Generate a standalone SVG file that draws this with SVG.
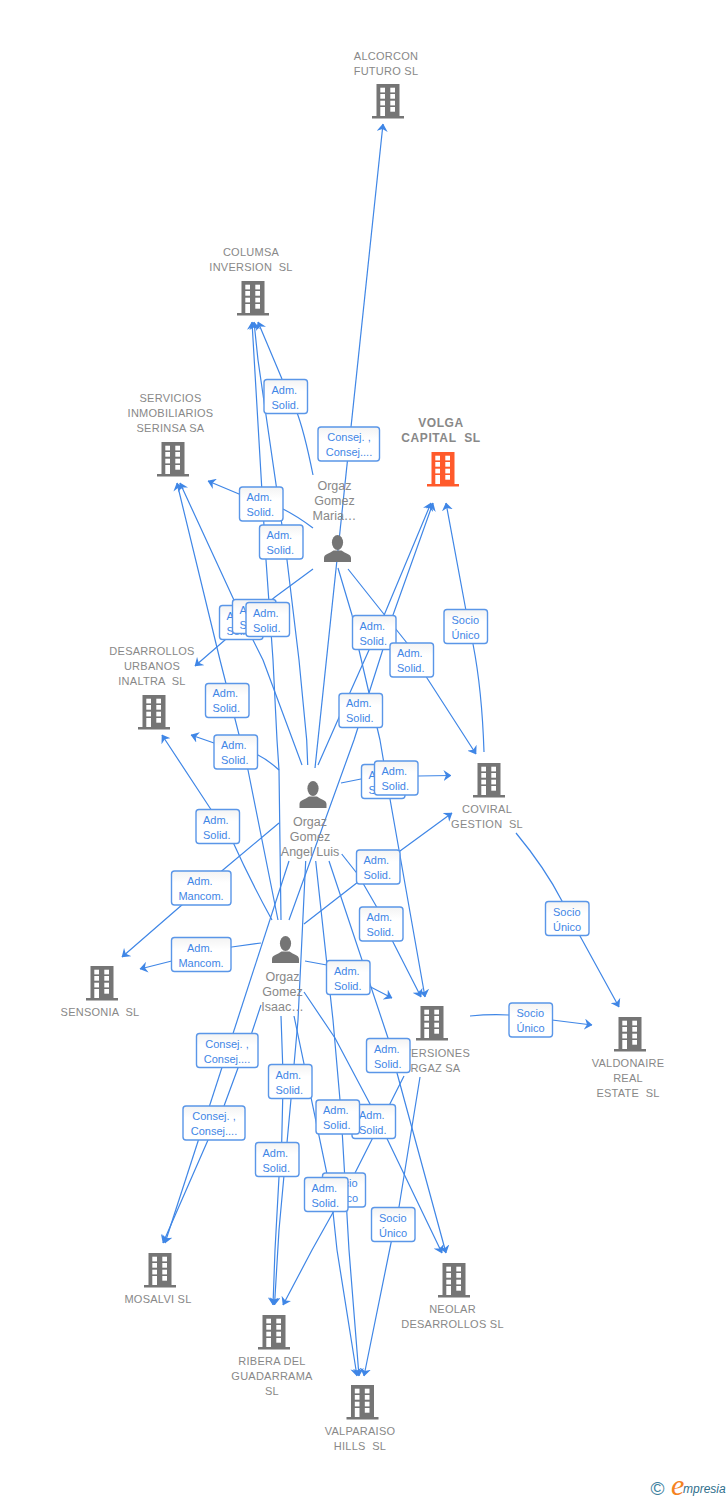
<svg xmlns="http://www.w3.org/2000/svg" width="728" height="1500" viewBox="0 0 728 1500">
<style>
text{font-family:"Liberation Sans",Arial,sans-serif;white-space:pre}
.n{font-size:11px;fill:#888;text-anchor:middle;letter-spacing:.25px}
.b{font-size:12px;font-weight:bold;fill:#888;text-anchor:middle;letter-spacing:.6px}
.p{font-size:12.500px;fill:#888;text-anchor:middle}
.c{fill:none;stroke:#3f86e6;stroke-width:1.2;stroke-linejoin:round;marker-end:url(#ah)}
.l rect{fill:url(#lg);stroke:#5a96e8;stroke-width:1.4}
.l text{font-size:11px;fill:#3f86e6}
.m{text-anchor:middle}
.g{fill:#757575}
</style>
<defs>
<linearGradient id="lg" x1="0" y1="0" x2="0" y2="1"><stop offset="0" stop-color="#f3f3f3"/><stop offset="0.35" stop-color="#fff"/><stop offset="1" stop-color="#fff"/></linearGradient>
<marker id="ah" markerUnits="userSpaceOnUse" markerWidth="8" markerHeight="11" viewBox="0 0 8 11" refX="7.500" refY="5.500" orient="auto"><path d="M8,5.500 L0,0 L2.500,5.500 L0,11 Z" fill="#3f86e6"/></marker>
<g id="bld"><rect x="-11.5" y="0" width="23" height="33"/><rect x="-16" y="32" width="32" height="2.5"/><g fill="#fff"><rect x="-7.7" y="3.7" width="4.7" height="4.7"/><rect x="2.3" y="3.7" width="4.7" height="4.7"/><rect x="-7.7" y="10" width="4.7" height="4.7"/><rect x="2.3" y="10" width="4.7" height="4.7"/><rect x="-7.7" y="16.7" width="4.7" height="4.7"/><rect x="2.3" y="16.7" width="4.7" height="4.7"/><rect x="-7.7" y="23" width="4.7" height="9"/><rect x="2.3" y="23" width="4.7" height="4.7"/></g></g>
<g id="per"><ellipse cx="0" cy="7.5" rx="5.6" ry="7.5"/><path d="M-13.5,27 L-13.5,23 C-13.5,19 -8,18.5 -4,15.5 L4,15.5 C8,18.5 13.5,19 13.5,23 L13.5,27 Z"/></g>
</defs>

<g id="connectors">
<path class="c" d="M315,768 L383,124"/>
<path class="c" d="M313,475 C306,440 300,420 296,410 L282,379 L258,322"/>
<path class="c" d="M313,528 Q297,516 283,509 L239,494 L208,481"/>
<path class="c" d="M313,569 L275,597 L233,633 L195,666"/>
<path class="c" d="M348,569 L383,613 L407,643 L427,678 L476,754"/>
<path class="c" d="M338,568 L352,615 L359,650 L369,693 L380,740 L390,799 L425,997"/>
<path class="c" d="M281,920 L279,770 L277,740 L273,660 L266,560 L252,322"/>
<path class="c" d="M307.700,765 L306.700,740 L299,660 L287,560 L258,360 L254,322"/>
<path class="c" d="M302,765 L263,660 L253,640 L233,598 L180,483"/>
<path class="c" d="M318,765 L348,697 L369,650 L385,613 L431,503"/>
<path class="c" d="M289,920 L354,740 L369,693 L382.700,650 L393,615 L433,503"/>
<path class="c" d="M278,920 L248,770 L220,660 L177,483"/>
<path class="c" d="M279,770 Q268,760 258,755 L214,743 L191,735"/>
<path class="c" d="M272,920 Q250,880 232,840 L210,808 L162,735"/>
<path class="c" d="M279,823 L221.700,871 L180.700,906 L122,957"/>
<path class="c" d="M261,943 L231.700,947 L171.700,961 L140,969"/>
<path class="c" d="M341,783 L361,779 L375,777 L418,776 L451,775.500"/>
<path class="c" d="M304,924 L356.700,883 L400,851 L452,813"/>
<path class="c" d="M341.700,854 L356.700,873 L364,885 L376.700,907 L393,942 L421,997"/>
<path class="c" d="M305,961 L326.700,965 L370.700,987 L392,998"/>
<path class="c" d="M329,861 L388,1038 L397,1073 L446,1253"/>
<path class="c" d="M304,992 L335,1038 L370,1104 L386.700,1138 L442,1253"/>
<path class="c" d="M315.700,861 L333,1020 L340,1100 L342.300,1134 L349,1250 L359,1376"/>
<path class="c" d="M294,1016 L326.700,1172.700 L333,1212 L337,1250 L357,1376"/>
<path class="c" d="M420,1077 L399,1207 L391,1243 L364,1376"/>
<path class="c" d="M404,1076 L355,1173 L332.700,1213 L312,1250 L283,1305"/>
<path class="c" d="M305.700,861 L298,1020 L294,1065 L291,1099 L279,1230 L274.500,1305"/>
<path class="c" d="M281,1016 L282.700,1065 L282.700,1099 L281.700,1142 L279,1177 L275,1250 L273,1305"/>
<path class="c" d="M261,1005 L251.700,1033 L238,1068 L224,1106 L208,1140 L170,1227 L163,1243"/>
<path class="c" d="M289,861 L165,1243"/>
<path class="c" d="M470,1016 Q490,1014 509,1015 L552,1020 L592,1025"/>
<path class="c" d="M516,833 Q545,868 562,901 L580,936 L619,1007"/>
<path class="c" d="M484,752 Q482,690 473,644 L465.700,609 L446,503"/>
</g>

<g id="node-alcorcon"><use href="#bld" x="388" y="84" class="g"/><text class="n" x="386" y="60">ALCORCON</text><text class="n" x="386" y="75">FUTURO SL</text></g>
<g id="node-columsa"><use href="#bld" x="253" y="281" class="g"/><text class="n" x="251" y="256">COLUMSA</text><text class="n" x="251" y="271">INVERSION  SL</text></g>
<g id="node-servicios"><use href="#bld" x="173" y="442" class="g"/><text class="n" x="170.500" y="402">SERVICIOS</text><text class="n" x="170.500" y="417">INMOBILIARIOS</text><text class="n" x="170.500" y="432">SERINSA SA</text></g>
<g id="node-volga"><use href="#bld" x="443" y="452" fill="#ff5a2b"/><text class="b" x="441" y="427">VOLGA</text><text class="b" x="441" y="442">CAPITAL  SL</text></g>
<g id="node-desarrollos"><use href="#bld" x="154" y="695" class="g"/><text class="n" x="152" y="655">DESARROLLOS</text><text class="n" x="152" y="670">URBANOS</text><text class="n" x="152" y="685">INALTRA  SL</text></g>
<g id="node-coviral"><use href="#bld" x="489" y="763" class="g"/><text class="n" x="487" y="813">COVIRAL</text><text class="n" x="487" y="828">GESTION  SL</text></g>
<g id="node-sensonia"><use href="#bld" x="102" y="966" class="g"/><text class="n" x="100" y="1016">SENSONIA  SL</text></g>
<g id="node-inversiones"><use href="#bld" x="432" y="1006" class="g"/><text class="n" x="431" y="1057">INVERSIONES</text><text class="n" x="431" y="1072">ORGAZ SA</text></g>
<g id="node-valdonaire"><use href="#bld" x="630" y="1017" class="g"/><text class="n" x="628" y="1067">VALDONAIRE</text><text class="n" x="628" y="1082">REAL</text><text class="n" x="628" y="1097">ESTATE  SL</text></g>
<g id="node-mosalvi"><use href="#bld" x="160" y="1253" class="g"/><text class="n" x="158" y="1303">MOSALVI SL</text></g>
<g id="node-neolar"><use href="#bld" x="454" y="1263" class="g"/><text class="n" x="452.500" y="1313">NEOLAR</text><text class="n" x="452.500" y="1328">DESARROLLOS SL</text></g>
<g id="node-ribera"><use href="#bld" x="274" y="1315" class="g"/><text class="n" x="272" y="1365">RIBERA DEL</text><text class="n" x="272" y="1380">GUADARRAMA</text><text class="n" x="272" y="1395">SL</text></g>
<g id="node-valparaiso"><use href="#bld" x="362.500" y="1385" class="g"/><text class="n" x="360" y="1435">VALPARAISO</text><text class="n" x="360" y="1450">HILLS  SL</text></g>
<g id="node-maria"><use href="#per" x="337.500" y="535" class="g"/><text class="p" x="334.500" y="490">Orgaz</text><text class="p" x="334.500" y="505">Gomez</text><text class="p" x="334.500" y="520">Maria…</text></g>
<g id="node-angel"><use href="#per" x="313" y="781" class="g"/><text class="p" x="310" y="826">Orgaz</text><text class="p" x="310" y="841">Gomez</text><text class="p" x="310" y="856">Angel Luis</text></g>
<g id="node-isaac"><use href="#per" x="285.500" y="936" class="g"/><text class="p" x="282.500" y="981">Orgaz</text><text class="p" x="282.500" y="996">Gomez</text><text class="p" x="282.500" y="1011">Isaac…</text></g>

<g id="labels">
<g class="l"><rect x="264" y="379.500" width="43.500" height="34" rx="3"/><text x="271.500" y="394">Adm.</text><text x="271.500" y="409">Solid.</text></g>
<g class="l"><rect x="318" y="427" width="61.500" height="34" rx="3"/><text class="m" x="349" y="441">Consej. ,</text><text class="m" x="349" y="456">Consej....</text></g>
<g class="l"><rect x="239.500" y="487" width="43.500" height="34" rx="3"/><text x="246.500" y="501">Adm.</text><text x="246.500" y="516">Solid.</text></g>
<g class="l"><rect x="259.500" y="525" width="43.500" height="34" rx="3"/><text x="266.500" y="539">Adm.</text><text x="266.500" y="554">Solid.</text></g>
<g class="l"><rect x="219.500" y="605.500" width="43.500" height="34" rx="3"/><text x="226.500" y="620">Adm.</text><text x="226.500" y="635">Solid.</text></g>
<g class="l"><rect x="232.500" y="599.500" width="43.500" height="34" rx="3"/><text x="239.500" y="614">Adm.</text><text x="239.500" y="629">Solid.</text></g>
<g class="l"><rect x="246" y="602.500" width="43.500" height="34" rx="3"/><text x="253" y="617">Adm.</text><text x="253" y="632">Solid.</text></g>
<g class="l"><rect x="352.500" y="615.500" width="43.500" height="34" rx="3"/><text x="359.500" y="630">Adm.</text><text x="359.500" y="645">Solid.</text></g>
<g class="l"><rect x="390" y="643" width="43.500" height="34" rx="3"/><text x="397" y="657">Adm.</text><text x="397" y="672">Solid.</text></g>
<g class="l"><rect x="444" y="609.500" width="43.500" height="34" rx="3"/><text x="451.500" y="624">Socio</text><text x="451.500" y="639">Único</text></g>
<g class="l"><rect x="339" y="693.500" width="43.500" height="34" rx="3"/><text x="346" y="707">Adm.</text><text x="346" y="722">Solid.</text></g>
<g class="l"><rect x="205.500" y="683.500" width="43.500" height="34" rx="3"/><text x="212.500" y="697">Adm.</text><text x="212.500" y="712">Solid.</text></g>
<g class="l"><rect x="214" y="735" width="43.500" height="34" rx="3"/><text x="221" y="749">Adm.</text><text x="221" y="764">Solid.</text></g>
<g class="l"><rect x="361.500" y="764.500" width="43.500" height="34" rx="3"/><text x="368.500" y="779">Adm.</text><text x="368.500" y="794">Solid.</text></g>
<g class="l"><rect x="374.500" y="761" width="43.500" height="34" rx="3"/><text x="381.500" y="775">Adm.</text><text x="381.500" y="790">Solid.</text></g>
<g class="l"><rect x="196" y="809.500" width="43.500" height="34" rx="3"/><text x="203" y="824">Adm.</text><text x="203" y="839">Solid.</text></g>
<g class="l"><rect x="171.500" y="871" width="59.500" height="34" rx="3"/><text x="187" y="885">Adm.</text><text class="m" x="201" y="900">Mancom.</text></g>
<g class="l"><rect x="171.500" y="937.500" width="59.500" height="34" rx="3"/><text x="187" y="952">Adm.</text><text class="m" x="201" y="967">Mancom.</text></g>
<g class="l"><rect x="356.500" y="850" width="43.500" height="34" rx="3"/><text x="363.500" y="864">Adm.</text><text x="363.500" y="879">Solid.</text></g>
<g class="l"><rect x="359.500" y="907" width="43.500" height="34" rx="3"/><text x="366.500" y="921">Adm.</text><text x="366.500" y="936">Solid.</text></g>
<g class="l"><rect x="326.500" y="960.500" width="43.500" height="34" rx="3"/><text x="334" y="975">Adm.</text><text x="334" y="990">Solid.</text></g>
<g class="l"><rect x="509" y="1003" width="43.500" height="34" rx="3"/><text x="516.500" y="1017">Socio</text><text x="516.500" y="1032">Único</text></g>
<g class="l"><rect x="545.500" y="901.500" width="43.500" height="34" rx="3"/><text x="553" y="916">Socio</text><text x="553" y="931">Único</text></g>
<g class="l"><rect x="196.500" y="1033.500" width="61.500" height="34" rx="3"/><text class="m" x="227" y="1048">Consej. ,</text><text class="m" x="227" y="1063">Consej....</text></g>
<g class="l"><rect x="183" y="1106" width="62" height="34" rx="3"/><text class="m" x="214" y="1120">Consej. ,</text><text class="m" x="214" y="1135">Consej....</text></g>
<g class="l"><rect x="268.500" y="1064.500" width="43.500" height="34" rx="3"/><text x="275.500" y="1079">Adm.</text><text x="275.500" y="1094">Solid.</text></g>
<g class="l"><rect x="255.500" y="1142.500" width="43.500" height="34" rx="3"/><text x="262.500" y="1157">Adm.</text><text x="262.500" y="1172">Solid.</text></g>
<g class="l"><rect x="352" y="1104.500" width="43.500" height="34" rx="3"/><text x="359" y="1119">Adm.</text><text x="359" y="1134">Solid.</text></g>
<g class="l"><rect x="316" y="1100" width="43.500" height="34" rx="3"/><text x="323" y="1114">Adm.</text><text x="323" y="1129">Solid.</text></g>
<g class="l"><rect x="322.500" y="1173" width="43" height="34" rx="3"/><text x="330" y="1187">Socio</text><text x="330" y="1202">Único</text></g>
<g class="l"><rect x="304.500" y="1177.500" width="43.500" height="34" rx="3"/><text x="311.500" y="1192">Adm.</text><text x="311.500" y="1207">Solid.</text></g>
<g class="l"><rect x="366.500" y="1038.500" width="43.500" height="34" rx="3"/><text x="374" y="1053">Adm.</text><text x="374" y="1068">Solid.</text></g>
<g class="l"><rect x="371.500" y="1207.500" width="43.500" height="34" rx="3"/><text x="379" y="1222">Socio</text><text x="379" y="1237">Único</text></g>
</g>

<g id="logo">
<text x="650.500" y="1495" style="font-size:19px;fill:#3d7f9e">©</text>
<text x="671" y="1495" style="font-family:'Liberation Serif',serif;font-size:30px;font-style:italic;fill:#f5831f">e</text>
<text x="683" y="1493" style="font-size:12px;font-style:italic;fill:#2f6f8c">mpresia</text>
</g>
</svg>
